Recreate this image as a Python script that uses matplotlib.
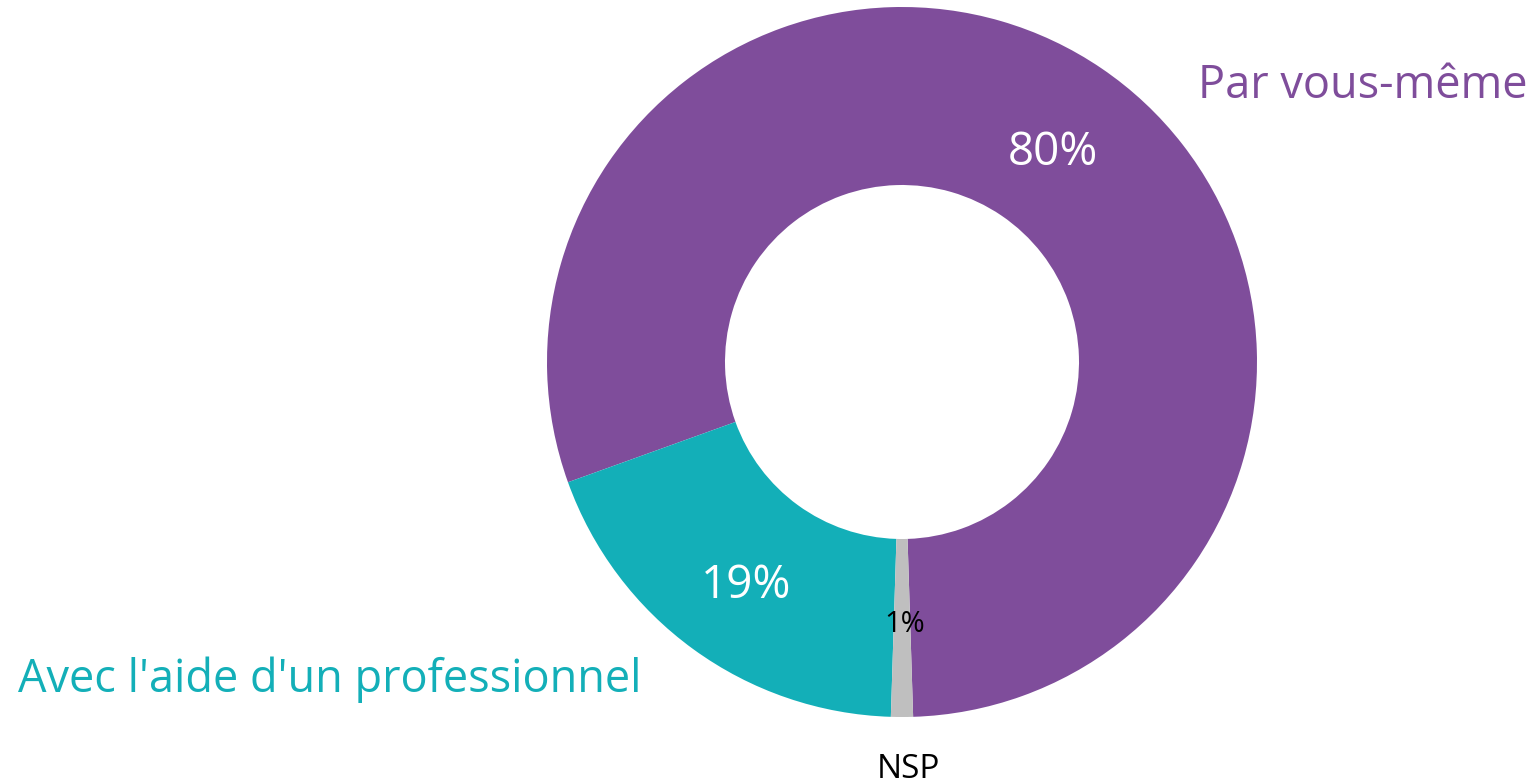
import matplotlib.pyplot as plt

plt.rcParams['font.family'] = ['Open Sans', 'DejaVu Sans']

categories = ["Par vous-même", "Avec l'aide d'un professionnel", "NSP"]
values = [80, 19, 1]
pct_labels = ["80%", "19%", "1%"]
colors = ["#7f4d9b", "#13afb8", "#bfbfbf"]

W, H = 1534, 784
fig = plt.figure(figsize=(W / 100, H / 100), dpi=100)
ax = fig.add_axes([0, 0, 1, 1])

cx, cy = 902, H - 362
R = 355
wedges, _ = ax.pie(values, colors=colors, startangle=-88.2, counterclock=True,
                   center=(cx, cy), radius=R,
                   wedgeprops=dict(width=178, linewidth=0))
ax.set_xlim(0, W)
ax.set_ylim(0, H)
ax.set_aspect('equal')
ax.axis('off')

# category labels
ax.text(1363, H - 98, categories[0], color=colors[0], fontsize=32.5,
        ha='center', va='baseline')
ax.text(330, H - 692, categories[1], color=colors[1], fontsize=32.5,
        ha='center', va='baseline')
ax.text(908, H - 778, categories[2], color='black', fontsize=24,
        ha='center', va='baseline')

# percentages
ax.text(1053, H - 165, pct_labels[0], color='white', fontsize=33,
        ha='center', va='baseline')
ax.text(746, H - 598, pct_labels[1], color='white', fontsize=33,
        ha='center', va='baseline')
ax.text(905, H - 632, pct_labels[2], color='black', fontsize=21,
        ha='center', va='baseline')

fig.savefig("out.png", dpi=100)
